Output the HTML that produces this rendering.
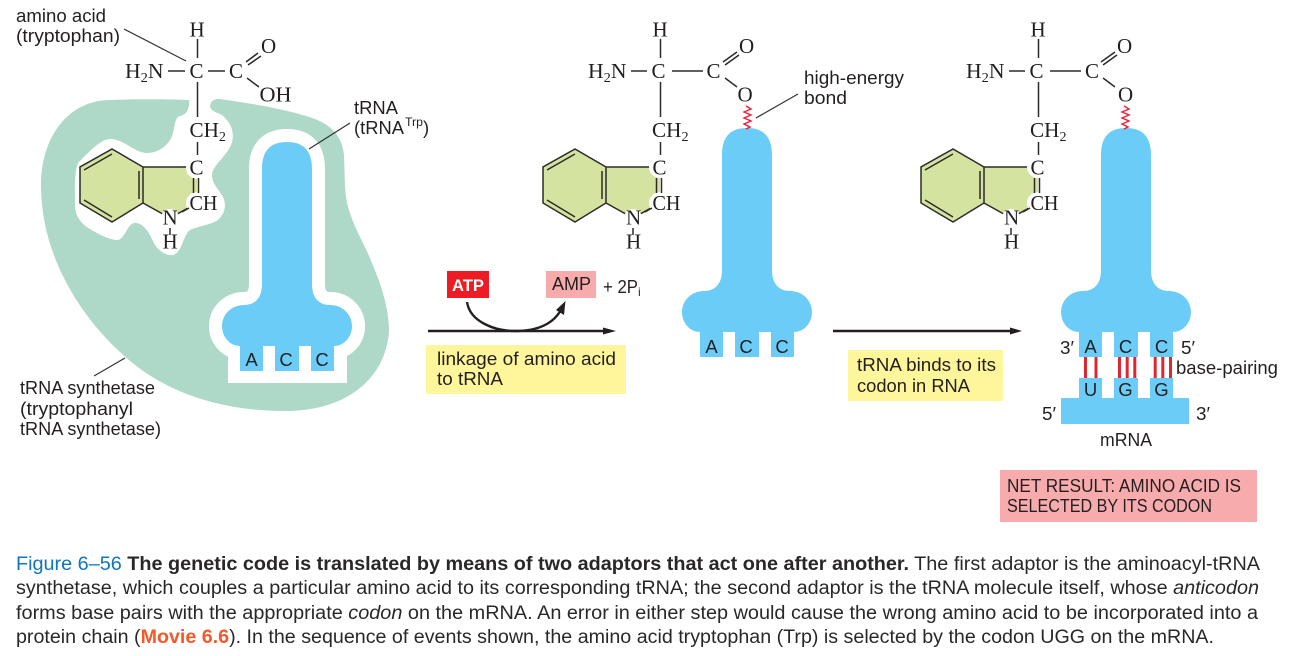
<!DOCTYPE html>
<html><head><meta charset="utf-8">
<style>
html,body{margin:0;padding:0;background:#fff;width:1291px;height:656px;overflow:hidden}
svg{display:block}
.s{font-family:"Liberation Sans",sans-serif;font-size:18.5px;fill:#231f20}
.m{font-family:"Liberation Serif",serif;font-size:21px;fill:#231f20}
.sub{font-size:14px}
.c{font-family:"Liberation Sans",sans-serif;font-size:19px;fill:#2a2728}
.l{stroke:#333;stroke-width:1.2;fill:none}
.b{stroke:#2b2b2b;stroke-width:1.5;fill:none}
.h{fill:#fff}
</style></head><body>
<svg width="1291" height="656" viewBox="0 0 1291 656" xmlns="http://www.w3.org/2000/svg">
<!-- synthetase blob -->
<path fill="#aed8c8" d="M189 100 C190 107 187 115 180 116 C174 118 175 128 172 136 C168 146 158 153 147 153 C135 153 124 139 110 139 C100 139 85 156 78 163 C74 172 75 195 75 207 C76 218 82 224 90 229 C100 235 110 240 117 240 C125 240 127 223 135 223 C145 223 150 235 155 245 C160 252 167 256 173 255 C182 253 183 235 190 230 C198 226 212 225 219 219 C226 212 226 203 223 197 C218 188 212 184 212 175 C212 166 225 158 231 145 C236 132 230 122 222 115 C215 112 210 110 210 106 C211 100 215 99 219 99 C250 103 290 110 315 119 C330 125 342 135 344 155 C345 175 344 195 349 210 C355 230 365 245 372 263 C381 285 388 305 389 328 C389 365 360 411 285 411 C225 411 165 395 120 352 C85 320 41 260 41 185 C41 135 70 100 110 100 C135 99 165 99 189 100 Z"/>
<!-- tRNA 1 halo -->
<path fill="#fff" stroke="#fff" stroke-width="26" d="M262 169 C262 149 272 142 287 142 C302 142 312 149 312 169 L312 284 C312 299 320 305 330 305 C343 305 352 315 352 326 C352 337 344 346 334 346 L240 346 C230 346 222 337 222 326 C222 315 231 305 244 305 C254 305 262 299 262 284 Z"/>
<rect x="228" y="340" width="119" height="43" fill="#fff"/>
<g fill="#6bcdf7">
<path d="M262 169 C262 149 272 142 287 142 C302 142 312 149 312 169 L312 284 C312 299 320 305 330 305 C343 305 352 315 352 326 C352 337 344 346 334 346 L334 371 L311 371 L311 346 L299 346 L299 371 L275 371 L275 346 L263 346 L263 371 L240 371 L240 346 C230 346 222 337 222 326 C222 315 231 305 244 305 C254 305 262 299 262 284 Z"/>
<!-- tRNA 2 -->
<path d="M722 155 C722 135 732 128 747 128 C762 128 772 135 772 155 L772 270 C772 285 780 291 790 291 C803 291 812 301 812 312 C812 323 804 332 794 332 L794 357 L771 357 L771 332 L759 332 L759 357 L735 357 L735 332 L723 332 L723 357 L700 357 L700 332 C690 332 682 323 682 312 C682 301 691 291 704 291 C714 291 722 285 722 270 Z"/>
<!-- tRNA 3 -->
<path d="M1101 155 C1101 135 1111 128 1126 128 C1141 128 1151 135 1151 155 L1151 270 C1151 285 1159 291 1169 291 C1182 291 1191 301 1191 312 C1191 323 1183 332 1173 332 L1173 357 L1150 357 L1150 332 L1138 332 L1138 357 L1114 357 L1114 332 L1102 332 L1102 357 L1079 357 L1079 332 C1069 332 1061 323 1061 312 C1061 301 1070 291 1083 291 C1093 291 1101 285 1101 270 Z"/>
<rect x="1079" y="378" width="23" height="21"/><rect x="1114" y="378" width="24" height="21"/><rect x="1150" y="378" width="23" height="21"/>
<rect x="1061" y="398" width="128" height="26"/>
</g>
<g fill="#e0262f">
<rect x="1084" y="357" width="3" height="21"/><rect x="1094.5" y="357" width="3" height="21"/>
<rect x="1118" y="357" width="3" height="21"/><rect x="1125.7" y="357" width="3" height="21"/><rect x="1133.3" y="357" width="3" height="21"/>
<rect x="1153.7" y="357" width="3" height="21"/><rect x="1161.3" y="357" width="3" height="21"/><rect x="1169" y="357" width="3" height="21"/>
</g>
<!-- squiggles -->
<path d="M746 106 L751 109 L744 112 L751 115 L744 118 L751 121 L744 124 L750 127 L746 129" fill="none" stroke="#ed1c3c" stroke-width="1.4"/>
<path d="M1124 106 L1129 109 L1122 112 L1129 115 L1122 118 L1129 121 L1122 124 L1128 127 L1124 129" fill="none" stroke="#ed1c3c" stroke-width="1.4"/>

<!-- Indole rings -->
<g>
<path fill="#d5e3a0" d="M112 149 L143 167 L197 167 L197 203 L170 218 L143 203 L112 222 L80 203 L80 167 Z"/>
<path class="b" d="M143 167 L112 149 L80 167 L80 203 L112 222 L143 203 Z M143 167 L197 167 M143 203 L170 218 L197 203 M84 170 L112 154 M84 200 L112 217 M139 171 L139 199"/>
<circle class="h" cx="197" cy="168" r="11"/><circle class="h" cx="197" cy="203" r="11"/><circle class="h" cx="170" cy="218" r="9"/>
</g>
<g>
<path fill="#d5e3a0" d="M575 149 L606 167 L660 167 L660 203 L633 218 L606 203 L575 222 L543 203 L543 167 Z"/>
<path class="b" d="M606 167 L575 149 L543 167 L543 203 L575 222 L606 203 Z M606 167 L660 167 M606 203 L633 218 L660 203 M547 170 L575 154 M547 200 L575 217 M602 171 L602 199"/>
<circle class="h" cx="660" cy="167" r="11"/><circle class="h" cx="660" cy="203" r="11"/><circle class="h" cx="633" cy="218" r="9"/>
</g>
<g>
<path fill="#d5e3a0" d="M953 149 L984 167 L1038 167 L1038 203 L1011 218 L984 203 L953 222 L921 203 L921 167 Z"/>
<path class="b" d="M984 167 L953 149 L921 167 L921 203 L953 222 L984 203 Z M984 167 L1038 167 M984 203 L1011 218 L1038 203 M925 170 L953 154 M925 200 L953 217 M980 171 L980 199"/>
<circle class="h" cx="1038" cy="167" r="11"/><circle class="h" cx="1038" cy="203" r="11"/><circle class="h" cx="1011" cy="218" r="9"/>
</g>

<!-- Molecule bonds 1 -->
<path class="b" d="M197.5 39 V58 M168 71 H185 M208 71 H225 M246 62 L258 53 M248 65 L261 56 M247 78 L259 87 M197.5 82 V117 M197.5 142 V155 M193.5 178 V193 M198.5 178 V193 M170 228 V235 M182 212 L189 208"/>
<!-- Molecule bonds 2 -->
<path class="b" d="M660.5 39 V58 M631 71 H647 M672 71 H703 M723 62 L737 52 M725 65 L739 55 M725 78 L737 87 M660.5 82 V117 M660.5 142 V155 M656.5 178 V193 M661.5 178 V193 M633 228 V235 M645 212 L652 208"/>
<!-- Molecule bonds 3 -->
<path class="b" d="M1038.5 39 V58 M1009 71 H1025 M1050 71 H1081 M1101 62 L1115 52 M1103 65 L1117 55 M1103 78 L1115 87 M1038.5 82 V117 M1038.5 142 V155 M1034.5 178 V193 M1039.5 178 V193 M1011 228 V235 M1023 212 L1030 208"/>

<!-- Molecule text 1 -->
<text x="189.5" y="36.5" class="m">H</text>
<text x="125" y="78" class="m" textLength="38.5" lengthAdjust="spacingAndGlyphs">H<tspan class="sub" dy="4">2</tspan><tspan dy="-4">N</tspan></text>
<text x="189.5" y="78" class="m">C</text>
<text x="229" y="78" class="m">C</text>
<text x="261" y="53" class="m">O</text>
<text x="259.5" y="101.5" class="m" textLength="32" lengthAdjust="spacingAndGlyphs">OH</text>
<text x="189.5" y="137" class="m" textLength="36.5" lengthAdjust="spacingAndGlyphs">CH<tspan class="sub" dy="4">2</tspan></text>
<text x="189.5" y="174.5" class="m">C</text>
<text x="189.5" y="210" class="m" textLength="28" lengthAdjust="spacingAndGlyphs">CH</text>
<text x="162.5" y="224.5" class="m">N</text>
<text x="162.5" y="248.5" class="m">H</text>
<!-- 2 -->
<text x="652.5" y="36.5" class="m">H</text>
<text x="588" y="78" class="m" textLength="38.5" lengthAdjust="spacingAndGlyphs">H<tspan class="sub" dy="4">2</tspan><tspan dy="-4">N</tspan></text>
<text x="651.5" y="78" class="m">C</text>
<text x="706.5" y="78" class="m">C</text>
<text x="739" y="53" class="m">O</text>
<text x="737.5" y="101.5" class="m">O</text>
<text x="652" y="137" class="m" textLength="36.5" lengthAdjust="spacingAndGlyphs">CH<tspan class="sub" dy="4">2</tspan></text>
<text x="652.5" y="174.5" class="m">C</text>
<text x="652.5" y="210" class="m" textLength="28" lengthAdjust="spacingAndGlyphs">CH</text>
<text x="626" y="224.5" class="m">N</text>
<text x="626" y="248.5" class="m">H</text>
<!-- 3 -->
<text x="1030.5" y="36.5" class="m">H</text>
<text x="966" y="78" class="m" textLength="38.5" lengthAdjust="spacingAndGlyphs">H<tspan class="sub" dy="4">2</tspan><tspan dy="-4">N</tspan></text>
<text x="1029.5" y="78" class="m">C</text>
<text x="1085" y="78" class="m">C</text>
<text x="1117" y="53" class="m">O</text>
<text x="1118" y="101.5" class="m">O</text>
<text x="1030" y="137" class="m" textLength="36.5" lengthAdjust="spacingAndGlyphs">CH<tspan class="sub" dy="4">2</tspan></text>
<text x="1030.5" y="174.5" class="m">C</text>
<text x="1030.5" y="210" class="m" textLength="28" lengthAdjust="spacingAndGlyphs">CH</text>
<text x="1004" y="224.5" class="m">N</text>
<text x="1004" y="248.5" class="m">H</text>

<!-- Leaders -->
<path class="l" d="M124 29 L186 61 M350 123 L309 149 M94 376 L125 358 M798 94 L756 118"/>

<!-- Labels -->
<text class="s" x="16" y="22" textLength="90" lengthAdjust="spacingAndGlyphs">amino acid</text>
<text class="s" x="16" y="42" textLength="104" lengthAdjust="spacingAndGlyphs">(tryptophan)</text>
<text class="s" x="354" y="114" textLength="44" lengthAdjust="spacingAndGlyphs">tRNA</text>
<text class="s" x="354" y="134" textLength="50" lengthAdjust="spacingAndGlyphs">(tRNA</text>
<text class="s" x="405" y="126" style="font-size:12px" textLength="18" lengthAdjust="spacingAndGlyphs">Trp</text>
<text class="s" x="423" y="134">)</text>
<text class="s" x="20" y="394" textLength="135" lengthAdjust="spacingAndGlyphs">tRNA synthetase</text>
<text class="s" x="20" y="415" textLength="113" lengthAdjust="spacingAndGlyphs">(tryptophanyl</text>
<text class="s" x="20" y="435" textLength="141" lengthAdjust="spacingAndGlyphs">tRNA synthetase)</text>
<text class="s" x="804" y="84" textLength="100" lengthAdjust="spacingAndGlyphs">high-energy</text>
<text class="s" x="804" y="104" textLength="43" lengthAdjust="spacingAndGlyphs">bond</text>

<!-- Tooth letters -->
<g text-anchor="middle">
<text class="s" x="251.5" y="366">A</text><text class="s" x="286" y="366">C</text><text class="s" x="322" y="366">C</text>
<text class="s" x="711.5" y="353">A</text><text class="s" x="746" y="353">C</text><text class="s" x="782" y="353">C</text>
<text class="s" x="1090.5" y="353">A</text><text class="s" x="1125.5" y="353">C</text><text class="s" x="1161.5" y="353">C</text>
<text class="s" x="1090.5" y="396">U</text><text class="s" x="1125.5" y="396">G</text><text class="s" x="1161.5" y="396">G</text>
</g>
<text class="s" x="1060" y="354" textLength="14" lengthAdjust="spacingAndGlyphs">3′</text>
<text class="s" x="1181" y="354" textLength="14" lengthAdjust="spacingAndGlyphs">5′</text>
<text class="s" x="1176" y="374" textLength="102" lengthAdjust="spacingAndGlyphs">base-pairing</text>
<text class="s" x="1042" y="420" textLength="14" lengthAdjust="spacingAndGlyphs">5′</text>
<text class="s" x="1196" y="420" textLength="14" lengthAdjust="spacingAndGlyphs">3′</text>
<text class="s" x="1100" y="446" textLength="52" lengthAdjust="spacingAndGlyphs">mRNA</text>

<!-- ATP/AMP -->
<rect x="447" y="271" width="42" height="27" fill="#ed1c24"/>
<text x="452" y="291" textLength="32" lengthAdjust="spacingAndGlyphs" style="font-family:'Liberation Sans',sans-serif;font-size:17px;font-weight:bold;fill:#fff">ATP</text>
<rect x="546" y="271" width="50" height="27" fill="#f8abad"/>
<text class="s" x="552" y="290" textLength="39" lengthAdjust="spacingAndGlyphs">AMP</text>
<text class="s" x="603" y="293" textLength="35" lengthAdjust="spacingAndGlyphs">+ 2P</text>
<text class="s" x="638" y="296" style="font-size:12px">i</text>

<path d="M467 302 C470 322 495 331 515 331 C540 331 555 322 562 308" fill="none" stroke="#231f20" stroke-width="2.4"/>
<path d="M565.5 301 L564 315 L556 310 Z" fill="#231f20"/>
<path d="M428 331 H606" stroke="#231f20" stroke-width="2.4"/>
<path d="M603 327.5 L616 331 L603 334.5 Z" fill="#231f20"/>
<path d="M833 331 H1013" stroke="#231f20" stroke-width="2.4"/>
<path d="M1010 327.5 L1022 331 L1010 334.5 Z" fill="#231f20"/>

<rect x="426" y="345" width="200" height="49" fill="#fff59b"/>
<text class="s" x="437" y="365" textLength="179" lengthAdjust="spacingAndGlyphs">linkage of amino acid</text>
<text class="s" x="437" y="385" textLength="66" lengthAdjust="spacingAndGlyphs">to tRNA</text>
<rect x="848" y="350" width="155" height="51" fill="#fff59b"/>
<text class="s" x="857" y="371" textLength="139" lengthAdjust="spacingAndGlyphs">tRNA binds to its</text>
<text class="s" x="857" y="392" textLength="113" lengthAdjust="spacingAndGlyphs">codon in RNA</text>
<rect x="1000" y="470" width="257" height="52" fill="#f8abad"/>
<text class="s" x="1007" y="492" textLength="234" lengthAdjust="spacingAndGlyphs">NET RESULT: AMINO ACID IS</text>
<text class="s" x="1007" y="512" textLength="205" lengthAdjust="spacingAndGlyphs">SELECTED BY ITS CODON</text>

<!-- Caption -->
<text class="c" x="16" y="570" textLength="1244" lengthAdjust="spacingAndGlyphs"><tspan fill="#0f75bc">Figure 6–56 </tspan><tspan font-weight="bold">The genetic code is translated by means of two adaptors that act one after another.</tspan> The first adaptor is the aminoacyl-tRNA</text>
<text class="c" x="16" y="594" textLength="1243" lengthAdjust="spacingAndGlyphs">synthetase, which couples a particular amino acid to its corresponding tRNA; the second adaptor is the tRNA molecule itself, whose <tspan font-style="italic">anticodon</tspan></text>
<text class="c" x="16" y="619" textLength="1242" lengthAdjust="spacingAndGlyphs">forms base pairs with the appropriate <tspan font-style="italic">codon</tspan> on the mRNA. An error in either step would cause the wrong amino acid to be incorporated into a</text>
<text class="c" x="16" y="643" textLength="1198" lengthAdjust="spacingAndGlyphs">protein chain (<tspan font-weight="bold" fill="#f15a29">Movie 6.6</tspan>). In the sequence of events shown, the amino acid tryptophan (Trp) is selected by the codon UGG on the mRNA.</text>
</svg>
</body></html>
